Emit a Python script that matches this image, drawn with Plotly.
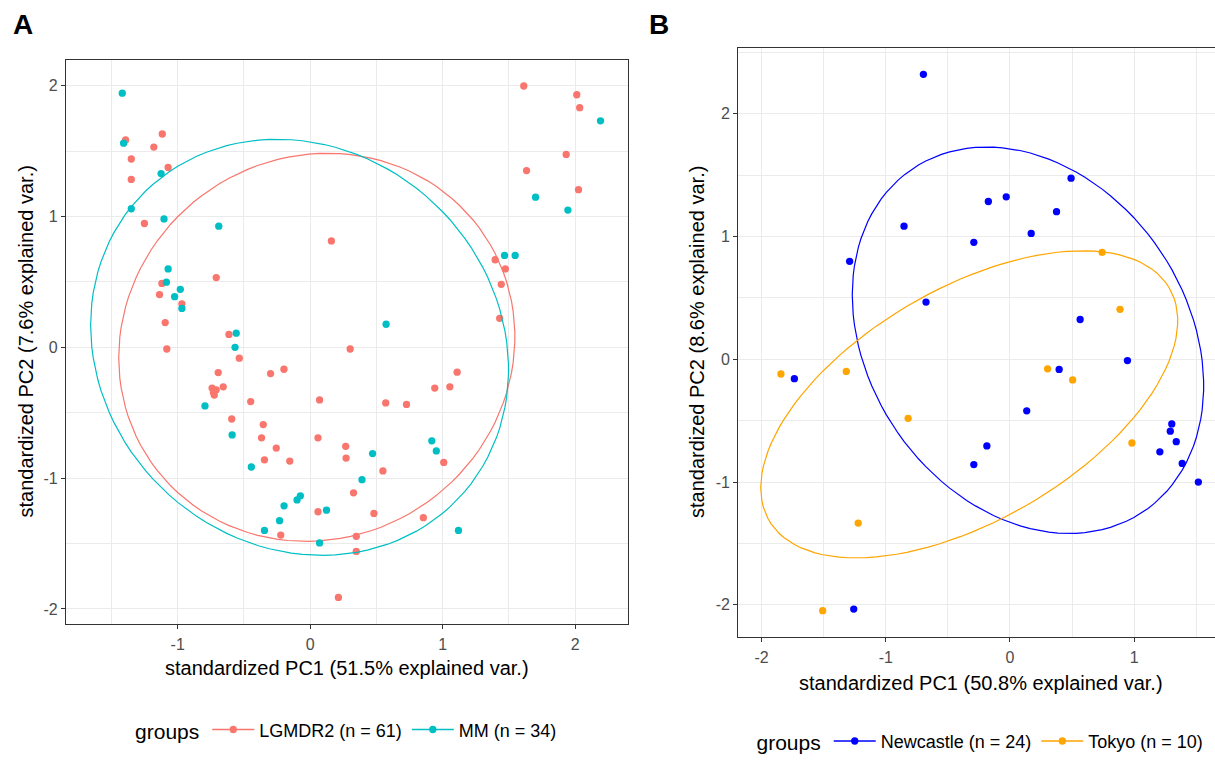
import numpy as np
import plotly.graph_objects as go

# ---------------- data : panel A ----------------
lgmdr2_pc1 = [-1.393, -1.116, -1.180, -1.350, -1.072, -1.350, -1.251, -0.709, -1.119, -1.137,
              -0.968, -1.094, -1.082, -0.613, 0.160, 0.302, 1.612, 2.012, 2.034, 1.932,
              1.633, 2.025, 1.396, 1.473, 1.442, 1.430, -0.535, -0.694, -0.299, -0.198,
              1.109, -0.740, -0.709, -0.656, -0.724, -0.730, 0.940, 1.054, -0.449, 0.071,
              0.570, 0.727, -0.592, -0.354, -0.367, 0.059, 0.268, -0.256, 0.271, -0.345,
              -0.154, 1.008, 0.549, 0.327, 0.059, 0.481, 0.854, -0.222, 0.348, 0.348,
              0.213]
lgmdr2_pc2 = [1.585, 1.630, 1.530, 1.439, 1.374, 1.283, 0.946, 0.533, 0.488, 0.403,
              0.332, 0.189, -0.013, 0.098, 0.813, -0.013, 1.997, 1.930, 1.831, 1.474,
              1.351, 1.205, 0.669, 0.599, 0.481, 0.221, -0.083, -0.193, -0.201, -0.168,
              -0.190, -0.312, -0.325, -0.302, -0.365, -0.345, -0.312, -0.302, -0.415, -0.402,
              -0.425, -0.437, -0.548, -0.591, -0.692, -0.692, -0.757, -0.770, -0.847, -0.860,
              -0.870, -0.880, -0.945, -1.112, -1.257, -1.270, -1.302, -1.435, -1.445, -1.560,
              -1.912]
mm_pc1 = [-1.418, -1.408, -1.125, -1.350, -1.103, -0.690, -1.072, -1.085, -0.980, -1.023,
          -0.968, 0.573, -0.558, -0.567, 1.467, 1.547, 1.701, 1.945, 2.191, -0.794,
          -0.589, 0.918, 0.952, 0.471, -0.444, 0.391, -0.074, -0.099, -0.197, 0.123,
          -0.231, -0.345, 1.119, 0.071]
mm_pc2 = [1.942, 1.560, 1.328, 1.059, 0.981, 0.926, 0.599, 0.498, 0.443, 0.387,
          0.297, 0.176, 0.108, 0.000, 0.702, 0.702, 1.147, 1.049, 1.731, -0.448,
          -0.670, -0.715, -0.792, -0.812, -0.915, -1.012, -1.135, -1.167, -1.212, -1.245,
          -1.325, -1.400, -1.400, -1.495]

# ---------------- data : panel B ----------------
newcastle_pc1 = [-0.697, 0.492, -0.174, -0.030, 0.375, -0.853, 0.171, -0.291, -1.291, -0.676,
                 0.565, 0.946, 0.396, -1.736, 0.135, -0.186, -0.291, 1.303, 1.291, 1.339,
                 1.207, 1.387, 1.517, -1.258]
newcastle_pc2 = [2.321, 1.475, 1.285, 1.323, 1.202, 1.084, 1.025, 0.953, 0.798, 0.466,
                 0.324, -0.011, -0.083, -0.158, -0.420, -0.706, -0.858, -0.527, -0.586, -0.671,
                 -0.754, -0.848, -1.000, -2.035]
tokyo_pc1 = [0.742, 0.886, -1.844, -1.318, 0.303, 0.505, -0.820, 0.982, -1.222, -1.508]
tokyo_pc2 = [0.870, 0.407, -0.120, -0.099, -0.078, -0.168, -0.481, -0.682, -1.334, -2.048]

# ellipse parameters: centre x, centre y, x half-width, y half-height, shear
ell_lgmdr2 = [0.05, 0.00, 1.495, 1.483, 0.08]
ell_mm = [-0.08, 0.00, 1.577, 1.590, -0.17]
ell_newcastle = [0.145, 0.155, 1.415, 1.574, -0.37]
ell_tokyo = [-0.328, -0.367, 1.679, 1.251, 0.68]

# tick values / labels
xticks_A = [-1, 0, 1, 2]
yticks_A = [-2, -1, 0, 1, 2]
xticks_B = [-2, -1, 0, 1]
yticks_B = [-2, -1, 0, 1, 2]

labels_A = ["LGMDR2 (n = 61)", "MM (n = 34)"]
labels_B = ["Newcastle (n = 24)", "Tokyo (n = 10)"]
colors_A = ["#F8766D", "#00BFC4"]
colors_B = ["#0000FF", "#FFA500"]
xtitle_A = "standardized PC1 (51.5% explained var.)"
ytitle_A = "standardized PC2 (7.6% explained var.)"
xtitle_B = "standardized PC1 (50.8% explained var.)"
ytitle_B = "standardized PC2 (8.6% explained var.)"

FONT = "Liberation Sans, Arial, sans-serif"
W, H = 1215, 761


def ellipse(p, n=120):
    cx, cy, rx, ry, sh = p
    u22 = np.sqrt(max(ry ** 2 - sh ** 2, 1e-9))
    t = np.linspace(-np.pi, np.pi, n)
    return cx + rx * np.cos(t), cy + sh * np.cos(t) + u22 * np.sin(t)


def ticktext(vals):
    return [str(v) for v in vals]


fig = go.Figure()

panels = [
    ("x", "y", "legend", [(lgmdr2_pc1, lgmdr2_pc2), (mm_pc1, mm_pc2)], [ell_lgmdr2, ell_mm], labels_A, colors_A),
    ("x2", "y2", "legend2", [(newcastle_pc1, newcastle_pc2), (tokyo_pc1, tokyo_pc2)], [ell_newcastle, ell_tokyo], labels_B, colors_B),
]

for xa, ya, leg, pts, ells, labs, cols in panels:
    for (px, py), e, lab, c in zip(pts, ells, labs, cols):
        ex, ey = ellipse(e)
        fig.add_trace(go.Scatter(x=ex, y=ey, mode="lines", line=dict(color=c, width=1.2),
                                 xaxis=xa, yaxis=ya, showlegend=False, hoverinfo="skip"))
        fig.add_trace(go.Scatter(x=px, y=py, mode="markers", marker=dict(color=c, size=7.3),
                                 xaxis=xa, yaxis=ya, showlegend=False))
        fig.add_trace(go.Scatter(x=[None], y=[None], mode="lines+markers", name=lab,
                                 line=dict(color=c, width=1.5), marker=dict(color=c, size=7.3),
                                 xaxis=xa, yaxis=ya, legend=leg))

grid = "#EBEBEB"
axis_common = dict(showline=True, linecolor="#333333", linewidth=1.3, ticks="outside", ticklen=4,
                   tickcolor="#333333", tickwidth=1, showgrid=True, gridcolor=grid, gridwidth=1.1,
                   zeroline=False, tickfont=dict(family=FONT, size=16, color="#4D4D4D"),
                   automargin=False, tickmode="array",
                   minor=dict(dtick=0.5, tick0=0, showgrid=True, gridcolor=grid, gridwidth=0.6))

legend_common = dict(orientation="h", xanchor="left", yanchor="middle",
                     title=dict(text="groups", side="left", font=dict(size=21, family=FONT)),
                     font=dict(size=18, family=FONT), itemwidth=42, bgcolor="rgba(0,0,0,0)")

fig.update_layout(
    width=W, height=H, margin=dict(l=0, r=0, t=0, b=0),
    paper_bgcolor="white", plot_bgcolor="white",
    font=dict(family=FONT, color="black"),
    xaxis=dict(axis_common, domain=[0.0544, 0.5167], range=[-1.842, 2.397], anchor="y", mirror=True,
               tickvals=xticks_A, ticktext=ticktext(xticks_A), ticklabelstandoff=2),
    yaxis=dict(axis_common, domain=[0.1691, 0.9198], range=[-2.115, 2.194], anchor="x", mirror=True,
               tickvals=yticks_A, ticktext=ticktext(yticks_A)),
    xaxis2=dict(axis_common, domain=[0.6076, 1.0], range=[-2.188, 1.651], anchor="y2", mirror=True,
                tickvals=xticks_B, ticktext=ticktext(xticks_B), ticklabelstandoff=2),
    yaxis2=dict(axis_common, domain=[0.152, 0.9365], range=[-2.261, 2.538], anchor="x2", mirror=False,
                tickvals=yticks_B, ticktext=ticktext(yticks_B)),
    legend=dict(legend_common, x=0.1095, y=1 - 740 / H),
    legend2=dict(legend_common, x=0.621, y=1 - 751.7 / H),
)

annos = [
    dict(text="<b>A</b>", x=11 / W, y=1 - 25 / H, xanchor="left", font=dict(size=28)),
    dict(text="<b>B</b>", x=647 / W, y=1 - 25 / H, xanchor="left", font=dict(size=28)),
    dict(text=xtitle_A, x=347 / W, y=1 - 677 / H, font=dict(size=20)),
    dict(text=xtitle_B, x=981 / W, y=1 - 691.7 / H, font=dict(size=20)),
    dict(text=ytitle_A, x=26.5 / W, y=1 - 346.6 / H, textangle=-90, font=dict(size=20)),
    dict(text=ytitle_B, x=697 / W, y=1 - 346.6 / H, textangle=-90, font=dict(size=20)),
]
for a in annos:
    a.setdefault("xanchor", "center")
    a["font"] = dict(family=FONT, color="black", **a["font"])
    fig.add_annotation(xref="paper", yref="paper", yanchor="middle", showarrow=False, **a)

fig.write_html("out.html", config={"displayModeBar": False},
               post_script="document.body.style.margin='0px';")
